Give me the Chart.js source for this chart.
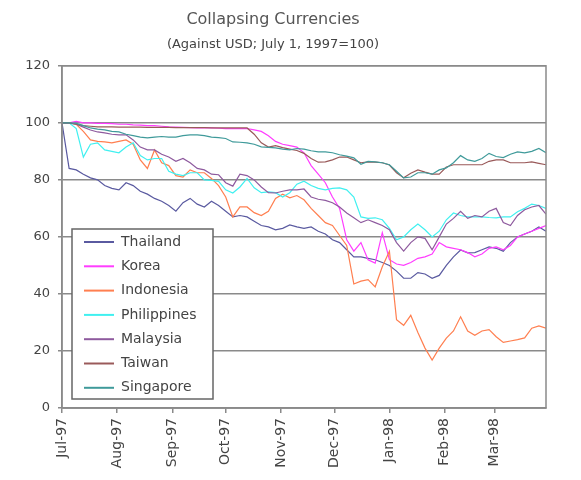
<!DOCTYPE html>
<html>
<head>
<meta charset="utf-8">
<script src="https://cdn.jsdelivr.net/npm/chart.js@4.4.1/dist/chart.umd.min.js"></script>
<style>
  body { margin: 0; background: #fff; }
</style>
</head>
<body>
<canvas id="currencyChart" width="581" height="480"></canvas>
<script>
// days since July 1, 1997
var days = [0, 4, 8, 12, 16, 20, 24, 28, 32, 36, 40, 44, 48, 52, 56, 60, 64, 68, 72, 76,
  80, 84, 88, 92, 96, 100, 104, 108, 112, 116, 120, 124, 128, 132, 136, 140, 144, 148,
  152, 156, 160, 164, 168, 172, 176, 180, 184, 188, 192, 196, 200, 204, 208, 212, 216,
  220, 224, 228, 232, 236, 240, 244, 248, 252, 256, 260, 264, 268, 272];
var monthStarts = [0, 31, 62, 92, 123, 153, 184, 215, 243];
var monthLabels = ["Jul-97", "Aug-97", "Sep-97", "Oct-97", "Nov-97", "Dec-97", "Jan-98", "Feb-98", "Mar-98"];
var seriesNames = ["Thailand", "Korea", "Indonesia", "Philippines", "Malaysia", "Taiwan", "Singapore"];
var seriesColors = ["#5a5aa0", "#ff3dff", "#ff7f50", "#40f0f0", "#8e5a9e", "#9a5a5a", "#3f9a9a"];

var thailand = [100, 84, 83.5, 82, 80.7, 80, 78, 77, 76.5, 79, 78, 76, 75, 73.5, 72.5, 71, 69, 72, 73.5, 71.5,
  70.5, 72.5, 71, 69, 67, 67.5, 67, 65.5, 64, 63.5, 62.5, 63, 64.2, 63.5, 63, 63.5, 62, 61,
  59, 58, 55.5, 53, 53, 52.5, 52, 51, 50, 48, 45.5, 45.5, 47.5, 47, 45.5, 46.5, 50,
  53, 55.4, 54.4, 54.5, 55.5, 56.5, 56, 55, 58, 60, 61, 62, 63.5, 62];
var korea = [100, 100, 100.5, 100, 100, 99.8, 99.8, 99.7, 99.5, 99.5, 99.3, 99.2, 99, 99, 98.8, 98.6, 98.5, 98.4, 98.3, 98.2,
  98.2, 98.2, 98.1, 98, 98, 98, 98, 97.5, 97, 95.5, 93.5, 92.5, 92, 91.5, 89.5, 85, 82, 79,
  74, 70, 59, 55, 58, 52, 50.8, 61.5, 52, 50.5, 50, 51, 52.5, 53, 54, 58, 56.5,
  56, 55.5, 54.5, 53, 54, 56, 56.5, 55.5, 57, 60, 61, 62, 63, 64];
var indonesia = [100, 100, 99.5, 97, 94, 93.5, 93.3, 93, 93.5, 94, 92.5, 87, 84, 90.5, 86, 85, 81.5, 81, 83.5, 82.5,
  82.5, 80.5, 78, 74, 67, 70.5, 70.5, 68.5, 67.5, 69, 73.5, 75, 73.7, 74.5, 73, 70, 67.5, 65,
  64, 60.5, 57, 43.5, 44.5, 45, 42.5, 49.5, 55, 31, 29, 32.5, 26.5, 21, 16.8, 21, 24.5,
  27, 32, 27, 25.5, 27, 27.5, 25, 23, 23.5, 24, 24.6, 28, 28.8, 28];
var philippines = [100, 100, 98, 88, 92.5, 93, 90.5, 90, 89.5, 91.5, 93, 88.5, 87, 87.5, 87.5, 83, 82, 81.5, 82.5, 82.5,
  80, 79.8, 79.5, 76.5, 75.4, 77.5, 80.5, 77.2, 75.5, 75.8, 75.5, 74, 75.5, 78.5, 79.5, 78, 77, 76.5,
  77, 77.2, 76.5, 74, 67, 66.5, 66.7, 66, 63, 59, 60, 62.5, 64.5, 62.5, 60, 62, 66,
  68.4, 67.5, 67, 67, 67, 66.8, 66.7, 67, 67, 68.8, 70, 71.5, 71, 70];
var malaysia = [100, 100, 99.5, 98.5, 97.5, 96.8, 96.5, 96, 95.8, 95.8, 94, 91.5, 90.5, 90.5, 89, 88, 86.5, 87.5, 86, 84,
  83.5, 82, 81.8, 79, 77.8, 82, 81.5, 80, 77.5, 75.5, 75.4, 76, 76.5, 76.5, 76.8, 74, 73.2, 72.8,
  72, 70.5, 68.4, 66.7, 65, 66, 65, 64, 62.5, 58, 55, 58, 60, 59.5, 55.5, 60, 64.5,
  66.5, 69, 66.5, 67.5, 67, 69, 70, 65, 64, 67.5, 69.5, 70.5, 71, 68];
var taiwan = [100, 100, 99.5, 99, 98.8, 98.6, 98.6, 98.6, 98.5, 98.5, 98.5, 98.5, 98.4, 98.4, 98.4, 98.4, 98.3, 98.3, 98.3, 98.3,
  98.3, 98.2, 98.2, 98.2, 98.2, 98.2, 98.2, 96, 93, 91.5, 92, 91.3, 90.8, 90.3, 89.3, 87.5, 86.2, 86.3,
  87, 88, 88, 87, 86, 86.3, 86.2, 86, 85.2, 82.5, 80.7, 82.3, 83.5, 82.7, 82, 82, 84.5,
  85.3, 85.3, 85.3, 85.3, 85.3, 86.5, 87, 87, 86, 86, 86, 86.3, 85.8, 85.3];
var singapore = [100, 100, 99.8, 99, 98.2, 97.8, 97.5, 97, 96.8, 96, 95.5, 95, 94.7, 95, 95.2, 95, 95, 95.5, 95.8, 95.8,
  95.5, 95, 94.8, 94.5, 93.3, 93.2, 93, 92.5, 91.6, 91.4, 91.2, 90.8, 90.5, 91, 90.8, 90.2, 89.8, 89.8,
  89.5, 88.8, 88.3, 87.7, 85.5, 86.5, 86.3, 86, 85.3, 83, 80.7, 81, 82.5, 82.5, 82, 83.5, 84.2,
  86, 88.5, 87, 86.5, 87.5, 89.3, 88.2, 87.8, 89, 89.8, 89.5, 90, 91, 89.5];

var allSeries = [thailand, korea, indonesia, philippines, malaysia, taiwan, singapore];
var textFont = "'DejaVu Sans', sans-serif";
var greyLine = "#8a8a8a";

function toPoints(values) {
  return values.map(function (v, i) { return { x: days[i], y: v }; });
}

// box round the plot area
var plotFrame = {
  id: "plotFrame",
  afterDraw: function (chart) {
    var a = chart.chartArea, ctx = chart.ctx;
    ctx.save();
    ctx.strokeStyle = greyLine;
    ctx.lineWidth = 1.5;
    ctx.strokeRect(a.left, a.top, a.right - a.left, a.bottom - a.top);
    ctx.restore();
  }
};

// legend drawn inside the plot area, lower left
var insideLegend = {
  id: "insideLegend",
  afterDraw: function (chart) {
    var a = chart.chartArea, ctx = chart.ctx;
    var left = a.left + 10, w = 141, h = 170;
    var top = a.bottom - 9 - h;
    ctx.save();
    ctx.fillStyle = "#fff";
    ctx.fillRect(left, top, w, h);
    ctx.strokeStyle = "#666";
    ctx.lineWidth = 1.5;
    ctx.strokeRect(left, top, w, h);
    ctx.font = "14px " + textFont;
    ctx.textBaseline = "middle";
    ctx.fillStyle = "#444";
    chart.data.datasets.forEach(function (ds, i) {
      var y = top + 13 + i * 24.3;
      ctx.strokeStyle = ds.borderColor;
      ctx.lineWidth = 2;
      ctx.beginPath();
      ctx.moveTo(left + 12, y);
      ctx.lineTo(left + 42, y);
      ctx.stroke();
      ctx.fillText(ds.label, left + 49, y);
    });
    ctx.restore();
  }
};

var currencyChart = new Chart(document.getElementById("currencyChart"), {
  type: "line",
  data: {
    datasets: seriesNames.map(function (name, i) {
      return {
        label: name,
        data: toPoints(allSeries[i]),
        borderColor: seriesColors[i],
        borderWidth: 1.2,
        pointRadius: 0,
        tension: 0,
        order: seriesNames.length - i
      };
    })
  },
  options: {
    responsive: false,
    animation: false,
    devicePixelRatio: 1,
    layout: { padding: { left: 0, right: 35, top: 0, bottom: 0 } },
    plugins: {
      legend: { display: false },
      tooltip: { enabled: false },
      title: {
        display: true,
        text: "Collapsing Currencies",
        color: "#555",
        font: { family: textFont, size: 16, weight: "normal" },
        padding: { top: 10, bottom: 6 }
      },
      subtitle: {
        display: true,
        text: "(Against USD; July 1, 1997=100)",
        color: "#444",
        font: { family: textFont, size: 13, weight: "normal" },
        padding: { top: 2, bottom: 13 }
      }
    },
    scales: {
      x: {
        type: "linear",
        min: 0,
        max: 272,
        afterBuildTicks: function (scale) {
          scale.ticks = monthStarts.map(function (v) { return { value: v }; });
        },
        afterFit: function (scale) { scale.height = 72; },
        grid: { drawOnChartArea: false, drawTicks: true, tickLength: 5, color: greyLine, lineWidth: 1.5 },
        border: { color: greyLine, width: 1.5 },
        ticks: {
          autoSkip: false,
          minRotation: 90,
          maxRotation: 90,
          padding: 5,
          color: "#444",
          font: { family: textFont, size: 14 },
          callback: function (value) { return monthLabels[monthStarts.indexOf(value)]; }
        }
      },
      y: {
        min: 0,
        max: 120,
        afterFit: function (scale) { scale.width = 62; },
        grid: { color: greyLine, lineWidth: 1.5, tickLength: 4 },
        border: { color: greyLine, width: 1.5 },
        ticks: {
          stepSize: 20,
          padding: 8,
          color: "#444",
          font: { family: textFont, size: 13 }
        }
      }
    }
  },
  plugins: [plotFrame, insideLegend]
});
</script>
</body>
</html>
